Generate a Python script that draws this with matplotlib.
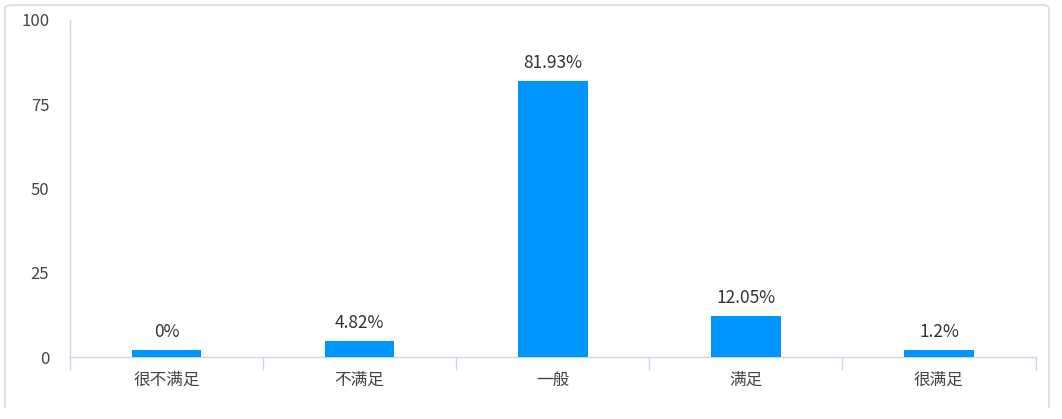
import matplotlib
matplotlib.use("Agg")
import matplotlib.pyplot as plt
from matplotlib.patches import FancyBboxPatch, Rectangle
import numpy as np

plt.rcParams['font.family'] = ['Noto Sans CJK SC', 'DejaVu Sans']

categories = ['很不满足', '不满足', '一般', '满足', '很满足']
values = [0, 4.82, 81.93, 12.05, 1.2]
labels = ['0%', '4.82%', '81.93%', '12.05%', '1.2%']
y_ticks = [0, 25, 50, 75, 100]

W, H = 1062, 419
fig = plt.figure(figsize=(W / 100, H / 100), dpi=100)
fig.patch.set_facecolor('white')

# rounded border frame
frame = FancyBboxPatch((5 / W, 0), (1049 - 5) / W, (H - 5) / H - 0,
                       boxstyle="round,pad=0,rounding_size=0.008",
                       transform=fig.transFigure, facecolor='none',
                       edgecolor='#dddddd', linewidth=1.3, zorder=0)
fig.patches.append(frame)
fig.patches.append(Rectangle((0, 0), 1, (H - 408) / H, transform=fig.transFigure,
                             facecolor='white', edgecolor='none', zorder=1))

ax = fig.add_axes([70 / W, (H - 357) / H, (1035.5 - 70) / W, (357 - 20) / H])
ax.set_facecolor('none')

x = np.arange(len(categories))
min_h = 2.0
shown = [max(v, min_h) for v in values]
bars = ax.bar(x, shown, width=0.36, color='#0096ff', zorder=3)

for xi, h, lab in zip(x, shown, labels):
    ax.annotate(lab, (xi, h), xytext=(0, 6.5), textcoords='offset points',
                ha='center', va='bottom', fontsize=12.5, color='#333333')

ax.set_xlim(-0.5, len(categories) - 0.5)
ax.set_ylim(0, 100)
ax.set_yticks(y_ticks)
ax.set_yticklabels([str(t) for t in y_ticks])
ax.tick_params(axis='y', length=0, pad=15, labelsize=12, labelcolor='#444444')

# category boundary ticks
ax.set_xticks(np.arange(len(categories) + 1) - 0.5)
ax.set_xticklabels([''] * (len(categories) + 1))
ax.tick_params(axis='x', which='major', length=9.5, width=1, color='#ccd6eb', direction='out')
ax.set_xticks(x, minor=True)
ax.set_xticklabels(categories, minor=True)
ax.tick_params(axis='x', which='minor', length=0, pad=10.5, labelsize=12, labelcolor='#444444')

for s in ['top', 'right']:
    ax.spines[s].set_visible(False)
ax.spines['left'].set_color('#ccd6eb')
ax.spines['bottom'].set_color('#ccd6eb')
ax.spines['left'].set_linewidth(1)
ax.spines['bottom'].set_linewidth(1)

fig.savefig('out.png', dpi=100, facecolor='white')
